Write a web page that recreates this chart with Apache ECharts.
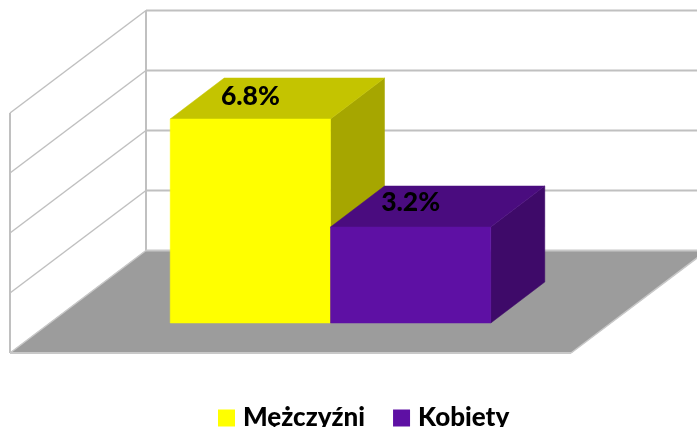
<!DOCTYPE html>
<html>
<head>
<meta charset="utf-8">
<style>html,body{margin:0;padding:0;background:#fff;overflow:hidden}#c{width:697px;height:427px}</style>
<script src="https://cdn.jsdelivr.net/npm/echarts@6/dist/echarts.min.js"></script>
</head>
<body>
<div id="c"></div>
<script>
const categories = ['Udział'];
const seriesNames = ['Mężczyźni', 'Kobiety'];
const menValues = [6.8];
const womenValues = [3.2];
const tickValues = [0, 2, 4, 6, 8];

const FONT = 'Lato, "Open Sans", sans-serif';
const WALL_DX = 136, WALL_DY = -102.5;   // full chart depth
const BAR_OFF_DX = 40, BAR_OFF_DY = -30; // gap between front plane and bar front
const BAR_DX = 54, BAR_DY = -41;         // bar depth
const GAP_RATIO = 1.5;
const GRID_COLOR = '#c0c0c0';

function line(x1, y1, x2, y2, w, c) {
  return { type: 'line', shape: { x1, y1, x2, y2 }, style: { stroke: c || GRID_COLOR, lineWidth: w } };
}
function poly(points, fill) {
  return { type: 'polygon', shape: { points }, style: { fill, stroke: fill, lineWidth: 0.5 } };
}

function renderWalls(params, api) {
  const v = api.value(0);
  const band = api.size([1, 0])[0];
  const c = api.coord([0, v]);
  const xL = c[0] - band / 2, xR = c[0] + band / 2, y = c[1];
  const children = [];
  if (v === tickValues[0]) {
    const top = api.coord([0, tickValues[tickValues.length - 1]])[1];
    children.push(poly([[xL, y], [xR, y], [xR + WALL_DX, y + WALL_DY], [xL + WALL_DX, y + WALL_DY]], '#9c9c9c'));
    children.push(line(xL, top, xL, y, 2));
    children.push(line(xL + WALL_DX, top + WALL_DY, xL + WALL_DX, y + WALL_DY, 2));
    children.push(line(xL, y, xR, y, 2, '#c8c8c8'));
    children.push(line(xR, y, xR + WALL_DX, y + WALL_DY, 1.5, '#c8c8c8'));
  }
  children.push(line(xL, y, xL + WALL_DX, y + WALL_DY, 1.5, v === tickValues[0] ? '#c8c8c8' : GRID_COLOR));
  children.push(line(xL + WALL_DX, y + WALL_DY, xR + WALL_DX, y + WALL_DY, 2, v === tickValues[0] ? '#c8c8c8' : GRID_COLOR));
  return { type: 'group', children };
}

function barRenderer(slot, front, topC, side, labelDy) {
  return function (params, api) {
    const cat = api.value(0), val = api.value(1);
    const band = api.size([1, 0])[0];
    const w = band / (2 + GAP_RATIO);
    const base = api.coord([cat, 0]), top = api.coord([cat, val]);
    const x0 = base[0] - w + slot * w + BAR_OFF_DX, x1 = x0 + w;
    const y0 = base[1] + BAR_OFF_DY, y1 = top[1] + BAR_OFF_DY;
    return {
      type: 'group',
      children: [
        poly([[x1, y0], [x1 + BAR_DX, y0 + BAR_DY], [x1 + BAR_DX, y1 + BAR_DY], [x1, y1]], side),
        poly([[x0, y1], [x1, y1], [x1 + BAR_DX, y1 + BAR_DY], [x0 + BAR_DX, y1 + BAR_DY]], topC),
        poly([[x0, y0], [x1, y0], [x1, y1], [x0, y1]], front),
        {
          type: 'text',
          style: {
            x: (x0 + x1) / 2, y: y1 + labelDy,
            text: val.toFixed(1) + '%',
            fill: '#000', font: '900 26.5px ' + FONT,
            align: 'center', verticalAlign: 'middle'
          }
        }
      ]
    };
  };
}

const chart = echarts.init(document.getElementById('c'), null, { renderer: 'canvas' });
chart.setOption({
  animation: false,
  backgroundColor: '#fff',
  grid: { left: 10, top: 113, width: 561, height: 240, containLabel: false },
  xAxis: { type: 'category', data: categories, show: false },
  yAxis: { type: 'value', min: 0, max: 8, interval: 2, show: false },
  legend: {
    data: seriesNames, left: 218, top: 405, padding: 0, itemGap: 28,
    itemWidth: 17, itemHeight: 17, icon: 'rect',
    textStyle: { fontFamily: FONT, fontWeight: 900, fontSize: 26, color: '#000', padding: [0, 0, 0, 3] }
  },
  series: [
    {
      type: 'custom', name: 'walls', silent: true, clip: false, z: 1,
      encode: { y: 0 }, data: tickValues.map(v => [v]), renderItem: renderWalls
    },
    {
      type: 'custom', name: seriesNames[0], clip: false, z: 2,
      itemStyle: { color: '#ffff00' }, encode: { x: 0, y: 1 },
      data: menValues.map((v, i) => [i, v]),
      renderItem: barRenderer(0, '#ffff00', '#c4c400', '#a6a600', -23)
    },
    {
      type: 'custom', name: seriesNames[1], clip: false, z: 3,
      itemStyle: { color: '#5e10a4' }, encode: { x: 0, y: 1 },
      data: womenValues.map((v, i) => [i, v]),
      renderItem: barRenderer(1, '#5e10a4', '#4a0c7f', '#3e0a69', -25)
    }
  ]
});
</script>
</body>
</html>
